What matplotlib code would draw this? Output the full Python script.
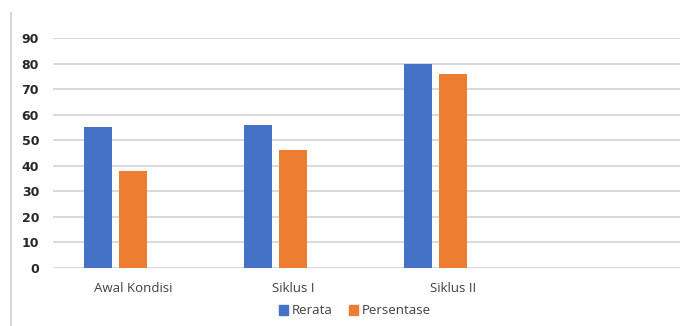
import matplotlib
matplotlib.use("Agg")
import matplotlib.pyplot as plt
from matplotlib.lines import Line2D
import numpy as np

categories = ["Awal Kondisi", "Siklus I", "Siklus II"]
rerata = [55, 56, 80]
persentase = [38, 46, 76]
y_ticks = [0, 10, 20, 30, 40, 50, 60, 70, 80, 90]

BLUE = "#4472C4"
ORANGE = "#ED7D31"
GRID = "#D9D9D9"
TEXT = "#404040"

fig = plt.figure(figsize=(6.8, 3.26), dpi=100)
ax = fig.add_axes([53 / 680, 1 - 268 / 326, 1 - 53 / 680, (268 - 38) / 326])

x = np.arange(len(categories))
bw = 0.178
off = 0.219
ax.bar(x - off, rerata, width=bw, color=BLUE, label="Rerata", zorder=3)
ax.bar(x, persentase, width=bw, color=ORANGE, label="Persentase", zorder=3)

ax.set_ylim(0, 90)
ax.set_xlim(-0.5, -0.5 + (680 - 53) / 160)
ax.set_yticks(y_ticks)
ax.set_yticklabels([str(t) for t in y_ticks], fontsize=9, fontweight="bold",
                   color="#262626", family="DejaVu Sans")
ax.set_xticks(x)
ax.set_xticklabels(categories, fontsize=9.5, color=TEXT, family="Open Sans")
ax.tick_params(axis="both", length=0)
ax.tick_params(axis="y", pad=10)
ax.tick_params(axis="x", pad=10)
ax.grid(axis="y", color=GRID, linewidth=1.4, zorder=0)
for s in ax.spines.values():
    s.set_visible(False)

handles = [plt.Rectangle((0, 0), 1, 1, color=BLUE),
           plt.Rectangle((0, 0), 1, 1, color=ORANGE)]
fig.legend(handles, ["Rerata", "Persentase"], loc="center",
           bbox_to_anchor=(355 / 680, 1 - 311 / 326), ncol=2, frameon=False,
           prop={"family": "Open Sans", "size": 9.5}, labelcolor=TEXT,
           handlelength=0.7, handleheight=0.7, handletextpad=0.3,
           columnspacing=1.2)

fig.add_artist(Line2D([11 / 680, 11 / 680], [0, 1 - 13 / 326],
                      color="#D0D0D0", linewidth=1.2, transform=fig.transFigure))

fig.savefig("out.png", dpi=100, facecolor="white")
